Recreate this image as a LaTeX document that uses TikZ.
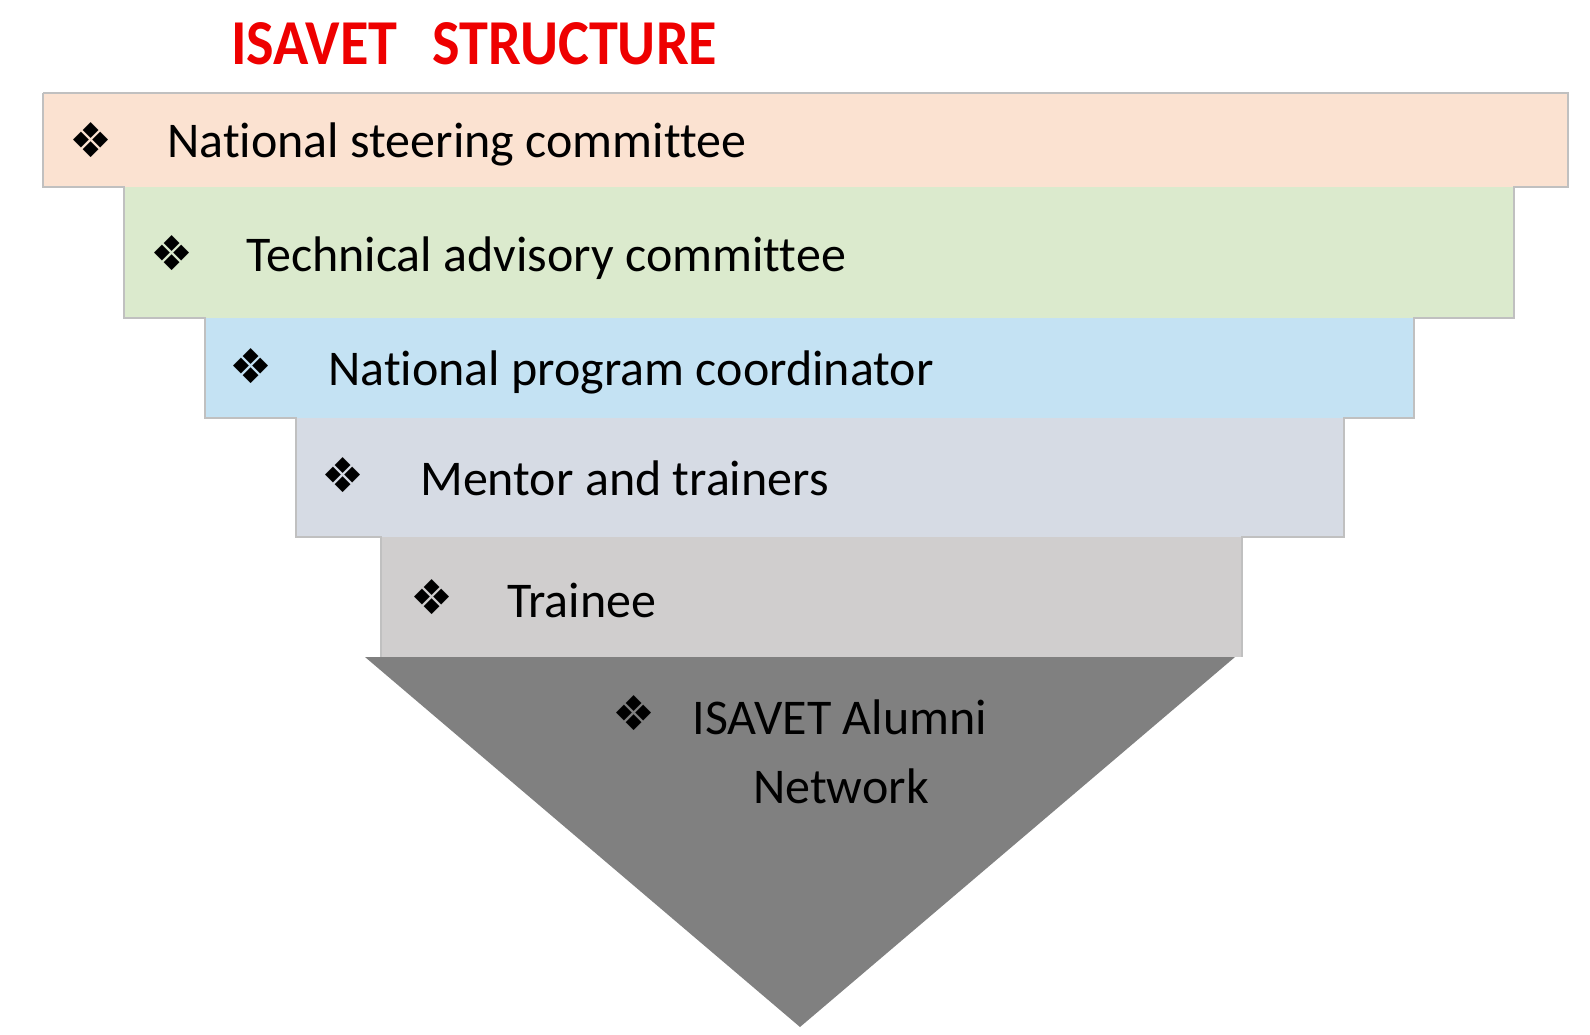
\documentclass[tikz,border=0pt]{standalone}
\usepackage{fontspec}
\setmainfont{Carlito}[Ligatures=NoCommon]
\newfontfamily\symfont{DejaVu Sans}
\definecolor{bandA}{HTML}{FBE2D1}
\definecolor{bandB}{HTML}{DBEACD}
\definecolor{bandC}{HTML}{C4E2F3}
\definecolor{bandD}{HTML}{D6DBE4}
\definecolor{bandE}{HTML}{D0CECE}
\definecolor{triG}{HTML}{808080}
\definecolor{edgeG}{HTML}{C0C0C0}
\definecolor{titleRed}{HTML}{EE0000}
\tikzset{
  lbl/.style={anchor=base west, inner sep=0pt, font=\fontsize{37.5pt}{45pt}\selectfont, text=black},
  bul/.style={anchor=center, inner sep=0pt, font=\symfont\fontsize{36pt}{42pt}\selectfont, text=black},
}
\begin{document}
\begin{tikzpicture}[x=0.75pt,y=-0.75pt]
\useasboundingbox (0,0) rectangle (1590,1034);
% bands
\fill[bandA] (43,93) rectangle (1568,187);
\fill[bandB] (124,187) rectangle (1514,318);
\fill[bandC] (205,318) rectangle (1414,418);
\fill[bandD] (296,418) rectangle (1344,537);
\fill[bandE] (381,537) rectangle (1242,657);
\draw[edgeG, line width=1.2pt] (43,93) -- (1568,93) -- (1568,187) -- (1514,187) -- (1514,318) -- (1414,318) -- (1414,418) -- (1344,418) -- (1344,537) -- (1242,537) -- (1242,657);
\draw[edgeG, line width=1.2pt] (381,657) -- (381,537) -- (296,537) -- (296,418) -- (205,418) -- (205,318) -- (124,318) -- (124,187) -- (43,187) -- (43,93);
\fill[triG] (365,657) -- (1235,657) -- (800,1027) -- cycle;
% title
\node[anchor=base west, inner sep=0pt, text=titleRed, font=\bfseries\fontsize{48pt}{58pt}\selectfont] (title) at (231,65) {\scalebox{0.91}[1]{ISAVET\hspace{29pt}STRUCTURE}};
% labels
\node[bul] (b1) at (91,140) {❖};
\node[lbl] (t1) at (167,158) {National steering committee};
\node[bul] (b2) at (172,253) {❖};
\node[lbl] (t2) at (246,272) {Technical advisory committee};
\node[bul] (b3) at (251,366) {❖};
\node[lbl] (t3) at (328,385) {National program coordinator};
\node[bul] (b4) at (343,475) {❖};
\node[lbl] (t4) at (420,495) {Mentor and trainers};
\node[bul] (b5) at (432,597) {❖};
\node[lbl] (t5) at (507,617) {Trainee};
\node[bul] (b6) at (634,713) {❖};
\node[lbl, anchor=base] (t6) at (840,734) {ISAVET Alumni};
\node[lbl, anchor=base] (t7) at (841,803) {Network};
\end{tikzpicture}
\end{document}
